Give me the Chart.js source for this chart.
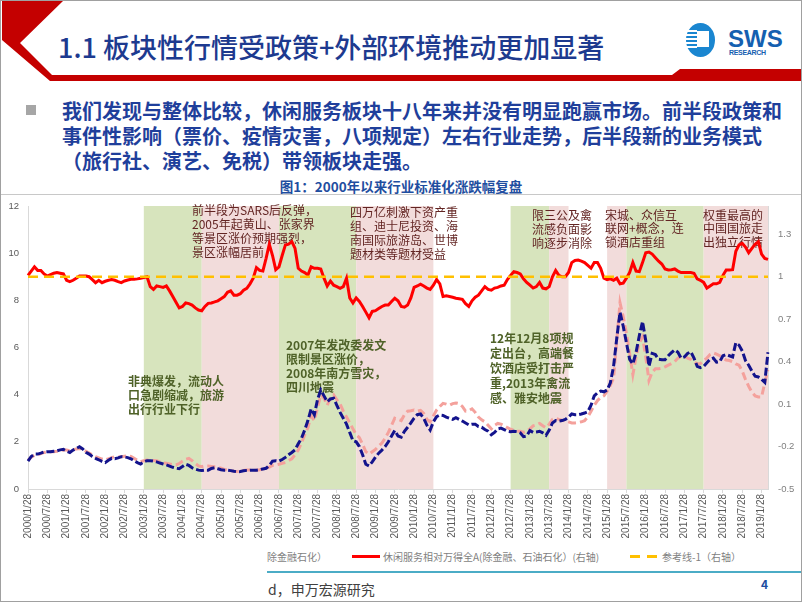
<!DOCTYPE html>
<html>
<head>
<meta charset="utf-8">
<script src="https://cdn.jsdelivr.net/npm/chart.js@4.4.0/dist/chart.umd.min.js"></script>
<style>
    html, body { margin: 0; padding: 0; background: #fff; }
    #slide { position: relative; width: 802px; height: 602px; overflow: hidden;
             font-family: "Noto Sans CJK SC", "Noto Sans", sans-serif; }
    .abs { position: absolute; white-space: nowrap; }
    #title { left: 58px; top: 29px; line-height: 36px; font-size: 27px; font-weight: 500; color: #1d3a8f; }
    #bullet { left: 26px; top: 105px; width: 10px; height: 10px; background: #a6a6a6; }
    #body { left: 62px; top: 98px; line-height: 25px; font-size: 20px; font-weight: bold; color: #1f3f9b; }
    #chartTitle { left: 0; width: 802px; top: 177px; line-height: 18px; text-align: center;
                  font-size: 13.5px; font-weight: bold; color: #1f4ea0; }
    #chartBox { position: absolute; left: 0; top: 196px; width: 802px; height: 350px; }
    .lg { position: absolute; top: 550px; line-height: 14px; font-size: 10px; color: #7f7f7f; white-space: nowrap; }
    #frame { position: absolute; left: 0; top: 0; width: 802px; height: 602px; box-sizing: border-box;
             border: 1px solid #a0a0a0; pointer-events: none; }
</style>
</head>
<body>
<div id="slide">
    <svg class="abs" width="802" height="90" style="left:0;top:0">
        <polygon points="2,1 63,1 20,43 52,75 672,75 680,69 801,69 801,81 50,81 2,40" fill="#c40000"/>
        <ellipse cx="700.5" cy="40" rx="14.5" ry="17" fill="#1a86d0"/>
        <rect x="686" y="30" width="11" height="2" fill="#fff"/>
        <rect x="686" y="34" width="11" height="2" fill="#fff"/>
        <rect x="686" y="38" width="11" height="2" fill="#fff"/>
        <rect x="686" y="42" width="11" height="2" fill="#fff"/>
        <rect x="686" y="46" width="11" height="2" fill="#fff"/>
        <rect x="697" y="31" width="12" height="16" fill="#fff"/>
        <text x="728" y="47" font-family="Liberation Sans" font-weight="bold" font-size="24" fill="#1560b0">SWS</text>
        <text x="729" y="55" font-family="Liberation Sans" font-weight="bold" font-size="7" fill="#1560b0" textLength="37">RESEARCH</text>
    </svg>
    <div id="title" class="abs">1.1 板块性行情受政策+外部环境推动更加显著</div>
    <div id="bullet" class="abs"></div>
    <div id="body" class="abs">我们发现与整体比较，休闲服务板块十八年来并没有明显跑赢市场。前半段政策和<br>事件性影响（票价、疫情灾害，八项规定）左右行业走势，后半段新的业务模式<br>（旅行社、演艺、免税）带领板块走强。</div>
    <div id="chartTitle" class="abs">图1：2000年以来行业标准化涨跌幅复盘</div>
    <div class="abs" style="left:0;top:194px;width:802px;height:1px;background:#c8c8c8"></div>

    <div id="chartBox"><canvas id="mainChart"></canvas></div>

    <div class="lg" id="lg0" style="left:267px"></div>
    <div class="abs" style="left:352px;top:555px;width:28px;height:3px;background:#ff0000"></div>
    <div class="lg" id="lg1" style="left:383px"></div>
    <div class="abs" style="left:630px;top:555px;width:10px;height:3px;background:#ffc000"></div>
    <div class="abs" style="left:647px;top:555px;width:10px;height:3px;background:#ffc000"></div>
    <div class="lg" id="lg2" style="left:662px"></div>

    <div class="abs" style="left:267px;top:571px;width:535px;height:2px;background:#4bacc6"></div>
    <div class="abs" style="left:268px;top:579px;line-height:20px;font-size:14px;color:#404040">d，申万宏源研究</div>
    <div class="abs" style="left:761px;top:576px;line-height:16px;font-size:12px;font-weight:bold;color:#1f4ea0">4</div>
    <div id="frame"></div>
</div>

<script>
// 月度日期
const DATES = [];
for (let y = 2000; y <= 2019; y++) {
    for (let m = 1; m <= 12; m++) {
        if (y === 2019 && m > 3) break;
        DATES.push(y + '/' + m + '/28');
    }
}

// 休闲服务相对万得全A(除金融、石油石化)（右轴）
const RELATIVE = [
    1.01, 1.04, 1.07, 1.045, 1.045, 1.02, 1.005, 1.015, 1.025, 1.03, 1.025, 1.02,
    0.975, 0.965, 0.975, 0.99, 1.005, 1.005, 1.005, 1.0, 0.98, 0.958, 0.975, 0.958,
    0.968, 0.975, 0.98, 0.975, 0.965, 0.958, 0.97, 0.977, 0.982, 0.982, 0.985, 0.99,
    0.995, 1.0, 0.93, 0.91, 0.935, 0.93, 0.925, 0.935, 0.9, 0.86, 0.82, 0.78,
    0.79, 0.815, 0.81, 0.8, 0.78, 0.765, 0.76, 0.79, 0.812, 0.815, 0.822, 0.83,
    0.845, 0.86, 0.89, 0.9, 0.87, 0.87, 0.88, 0.905, 0.918, 0.95, 0.99, 1.065,
    1.045, 1.04, 1.13, 1.23, 1.15, 1.05, 1.07, 1.15, 1.225, 1.23, 1.248, 1.2,
    1.06, 1.04, 1.03, 1.012, 1.07, 1.06, 1.06, 1.055, 0.99, 0.935, 0.97, 0.94,
    0.93, 0.918, 0.93, 0.99, 0.85, 0.815, 0.85, 0.825, 0.79, 0.75, 0.71, 0.755,
    0.76, 0.775, 0.79, 0.8, 0.8, 0.825, 0.848, 0.83, 0.79, 0.785, 0.8, 0.85,
    0.925, 0.935, 0.948, 0.935, 0.92, 0.91, 0.94, 0.98, 0.95, 0.86, 0.865, 0.86,
    0.855, 0.848, 0.845, 0.84, 0.81, 0.79, 0.83, 0.855, 0.87, 0.9, 0.93, 0.91,
    0.905, 0.92, 0.925, 0.935, 0.94, 0.98, 1.01, 1.036, 1.03, 1.02, 0.985, 0.96,
    0.94, 0.92, 0.93, 0.96, 0.92, 0.915, 0.93, 1.0, 1.045, 1.01, 1.0, 1.0,
    1.03, 1.1, 1.115, 1.118, 1.11, 1.1, 1.08, 1.06, 1.1, 1.1, 1.06, 0.99,
    0.98, 0.985, 0.975, 0.99, 0.95, 0.955, 0.99, 1.03, 1.1, 1.04, 1.036, 1.1,
    1.17, 1.175, 1.16, 1.135, 1.11, 1.09, 1.055, 1.048, 1.05, 1.055, 1.04, 1.03,
    1.03, 1.03, 1.03, 1.025, 0.985, 0.975, 0.96, 0.92, 0.935, 0.95, 0.95, 0.96,
    1.01, 1.048, 1.048, 1.05, 1.18, 1.225, 1.236, 1.21, 1.17, 1.2, 1.23, 1.248,
    1.16, 1.13, 1.123
];

// 休闲服务（左轴，深蓝虚线）
const LEISURE = [
    1.18, 1.38, 1.48, 1.48, 1.52, 1.57, 1.58, 1.58, 1.60, 1.62, 1.66, 1.68,
    1.60, 1.55, 1.65, 1.72, 1.79, 1.70, 1.56, 1.48, 1.38, 1.30, 1.24, 1.17,
    1.12, 1.22, 1.30, 1.28, 1.32, 1.37, 1.36, 1.33, 1.28, 1.20, 1.12, 1.06,
    1.15, 1.20, 1.20, 1.18, 1.15, 1.10, 1.06, 1.02, 0.97, 0.92, 0.88, 0.86,
    0.95, 1.05, 1.00, 0.90, 0.84, 0.80, 0.78, 0.80, 0.80, 0.87, 0.90, 0.86,
    0.82, 0.80, 0.80, 0.78, 0.75, 0.73, 0.74, 0.77, 0.79, 0.80, 0.80, 0.80,
    0.82, 0.85, 0.88, 1.00, 1.18, 1.20, 1.18, 1.25, 1.34, 1.45, 1.55, 1.66,
    1.92, 2.15, 2.50, 2.90, 3.40, 3.15, 3.80, 4.20, 3.95, 3.70, 3.82, 3.85,
    3.55, 3.25, 3.00, 2.75, 2.40, 2.05, 2.00, 1.80, 1.45, 1.05, 0.98, 1.15,
    1.35, 1.52, 1.65, 1.80, 2.00, 2.25, 2.48, 2.25, 2.20, 2.45, 2.62, 2.80,
    3.00, 3.15, 3.18, 3.00, 2.70, 2.50, 2.85, 3.07, 3.14, 3.12, 3.05, 3.00,
    2.95, 3.02, 2.95, 2.88, 2.80, 2.72, 2.75, 2.75, 2.65, 2.62, 2.52, 2.45,
    2.30, 2.40, 2.55, 2.58, 2.52, 2.45, 2.43, 2.45, 2.43, 2.38, 2.22, 2.25,
    2.48, 2.40, 2.42, 2.45, 2.38, 2.28, 2.50, 2.80, 2.90, 2.88, 2.90, 2.95,
    3.05, 3.18, 3.15, 3.15, 3.18, 3.22, 3.28, 3.55, 3.95, 4.08, 4.15, 4.12,
    4.20, 4.50, 5.20, 6.40, 7.50, 6.90, 6.20, 5.50, 5.30, 5.80, 6.50, 7.10,
    6.30, 5.20, 5.75, 5.70, 5.50, 5.48, 5.48, 5.65, 5.78, 5.90, 5.80, 5.55,
    5.60, 5.75, 5.82, 5.55, 5.20, 5.15, 5.20, 5.35, 5.50, 5.55, 5.38, 5.40,
    5.65, 5.70, 5.65, 5.60, 6.20, 6.10, 5.85, 5.45, 5.25, 5.00, 4.78, 4.75,
    4.65, 4.52, 5.80
];

// 万得全A(除金融石化)（左轴，粉色虚线）
const MARKET = [
    1.22, 1.35, 1.43, 1.45, 1.50, 1.55, 1.57, 1.58, 1.58, 1.60, 1.63, 1.65,
    1.65, 1.62, 1.66, 1.70, 1.72, 1.68, 1.60, 1.52, 1.44, 1.37, 1.32, 1.27,
    1.23, 1.28, 1.33, 1.37, 1.35, 1.37, 1.39, 1.40, 1.38, 1.30, 1.22, 1.16,
    1.20, 1.23, 1.22, 1.21, 1.20, 1.15, 1.10, 1.09, 1.06, 1.03, 1.02, 1.08,
    1.18, 1.26, 1.30, 1.20, 1.08, 0.98, 0.95, 0.98, 0.98, 0.96, 0.94, 0.92,
    0.88, 0.83, 0.81, 0.78, 0.75, 0.74, 0.76, 0.79, 0.81, 0.81, 0.80, 0.80,
    0.82, 0.85, 0.88, 0.93, 1.00, 1.02, 1.05, 1.09, 1.12, 1.20, 1.28, 1.45,
    1.65, 1.95, 2.30, 2.60, 3.10, 2.90, 3.45, 4.00, 3.85, 3.55, 3.85, 3.99,
    3.78, 3.60, 3.30, 3.05, 2.80, 2.55, 2.30, 2.18, 1.90, 1.58, 1.48, 1.58,
    1.68, 1.82, 1.95, 2.15, 2.40, 2.70, 3.00, 2.95, 2.90, 3.15, 3.30, 3.32,
    3.35, 3.30, 3.33, 3.20, 2.95, 2.85, 3.10, 3.35, 3.50, 3.63, 3.60, 3.55,
    3.62, 3.65, 3.62, 3.50, 3.30, 3.32, 3.40, 3.25, 3.05, 2.93, 2.85, 2.70,
    2.55, 2.70, 2.78, 2.75, 2.68, 2.60, 2.53, 2.50, 2.45, 2.45, 2.40, 2.45,
    2.55, 2.68, 2.72, 2.78, 2.68, 2.60, 2.75, 2.95, 3.00, 2.95, 2.92, 2.90,
    2.85, 2.80, 2.80, 2.82, 2.85, 2.90, 3.05, 3.30, 3.55, 3.75, 3.88, 3.95,
    4.15, 4.40, 4.70, 6.30, 7.90, 7.30, 6.60, 5.75, 4.85, 5.60, 6.20, 6.45,
    5.60, 4.60, 4.95, 5.10, 5.10, 5.12, 5.18, 5.25, 5.32, 5.40, 5.55, 5.62,
    5.65, 5.55, 5.50, 5.40, 5.30, 5.32, 5.45, 5.55, 5.70, 5.77, 5.72, 5.65,
    5.55, 5.47, 5.45, 5.40, 5.30, 5.25, 5.00, 4.65, 4.35, 4.10, 3.95, 3.90,
    3.90, 4.50, 5.05
];

// 参考线（右轴）
const REF_VALUE = [1, 1];

// 右轴刻度
const RIGHT_TICKS = [-0.5, -0.2, 0.1, 0.4, 0.7, 1.0, 1.3];

// 背景区间
const BANDS = [
    ['2003/1/28', '2004/7/28', 'green'],
    ['2004/7/28', '2006/7/28', 'pink'],
    ['2006/7/28', '2008/7/28', 'green'],
    ['2008/7/28', '2010/7/28', 'pink'],
    ['2012/7/28', '2013/7/28', 'green'],
    ['2013/7/28', '2014/1/28', 'pink'],
    ['2015/1/28', '2015/7/28', 'pink'],
    ['2015/7/28', '2017/7/28', 'green'],
    ['2017/7/28', '2019/3/28', 'pink']
];

const LEGEND = ['除金融石化）', '休闲服务相对万得全A(除金融、石油石化）(右轴)', '参考线-1（右轴）'];

// 图上文字说明
const NOTES = [
    { x: 192, y: 14, lh: 14, c: 'brown', lines: ['前半段为SARS后反弹，', '2005年起黄山、张家界', '等景区涨价预期强烈，', '景区涨幅居前'] },
    { x: 350, y: 16, lh: 14, c: 'brown', lines: ['四万亿刺激下资产重', '组、迪士尼投资、海', '南国际旅游岛、世博', '题材类等题材受益'] },
    { x: 532, y: 19, lh: 14, c: 'brown', lines: ['限三公及禽', '流感负面影', '响逐步消除'] },
    { x: 605, y: 19, lh: 13.5, c: 'brown', lines: ['宋城、众信互', '联网+概念，连', '锁酒店重组'] },
    { x: 703, y: 19, lh: 13.5, c: 'brown', lines: ['权重最高的', '中国国旅走', '出独立行情'] },
    { x: 128, y: 185, lh: 14, c: 'green', lines: ['非典爆发，流动人', '口急剧缩减，旅游', '出行行业下行'] },
    { x: 286, y: 149, lh: 14.3, c: 'green', lines: ['2007年发改委发文', '限制景区涨价，', '2008年南方雪灾，', '四川地震'] },
    { x: 490, y: 142, lh: 15, c: 'green', lines: ['12年12月8项规', '定出台，高端餐', '饮酒店受打击严', '重,2013年禽流', '感、雅安地震'] }
];

const COLORS = {
    red: '#ff0000',
    navy: '#13138c',
    pink: '#f4a19c',
    yellow: '#ffc000',
    bandGreen: '#d7e4bd',
    bandPink: '#f2dcdb',
    brown: '#632523',
    green: '#4f6228',
    axis: '#d9d9d9'
};

const CJK = '"Noto Sans CJK SC", "Noto Sans", sans-serif';

document.getElementById('lg0').textContent = LEGEND[0];
document.getElementById('lg1').textContent = LEGEND[1];
document.getElementById('lg2').textContent = LEGEND[2];

const bandsPlugin = {
    id: 'bands',
    beforeDraw(chart) {
        const { ctx, chartArea, scales } = chart;
        ctx.save();
        BANDS.forEach(([from, to, kind]) => {
            const x1 = scales.x.getPixelForValue(DATES.indexOf(from));
            const x2 = scales.x.getPixelForValue(DATES.indexOf(to));
            ctx.fillStyle = kind === 'green' ? COLORS.bandGreen : COLORS.bandPink;
            ctx.fillRect(x1, chartArea.top, x2 - x1, chartArea.bottom - chartArea.top);
        });
        ctx.restore();
    },
    beforeDatasetsDraw(chart) {
        const ctx = chart.ctx;
        ctx.save();
        ctx.textBaseline = 'middle';
        ctx.textAlign = 'left';
        NOTES.forEach(n => {
            ctx.font = (n.c === 'green' ? 'bold ' : '') + '12px ' + CJK;
            ctx.fillStyle = n.c === 'green' ? COLORS.green : COLORS.brown;
            n.lines.forEach((t, k) => ctx.fillText(t, n.x, n.y + k * n.lh));
        });
        ctx.restore();
    }
};

function initializeMainChart() {
    const ctx = document.getElementById('mainChart');
    const last = DATES.length - 1;

    new Chart(ctx, {
        type: 'line',
        data: {
            labels: DATES,
            datasets: [
                {
                    label: LEGEND[2],
                    data: [{ x: DATES[0], y: REF_VALUE[0] }, { x: DATES[last], y: REF_VALUE[1] }],
                    yAxisID: 'y1',
                    borderColor: COLORS.yellow,
                    borderWidth: 2.5,
                    borderDash: [10, 6],
                    pointRadius: 0
                },
                {
                    label: LEGEND[1],
                    data: RELATIVE,
                    yAxisID: 'y1',
                    borderColor: COLORS.red,
                    borderWidth: 3,
                    pointRadius: 0
                },
                {
                    label: '休闲服务',
                    data: LEISURE,
                    yAxisID: 'y',
                    borderColor: COLORS.navy,
                    borderWidth: 3,
                    borderDash: [8, 3],
                    pointRadius: 0
                },
                {
                    label: '万得全A(除金融石化）',
                    data: MARKET,
                    yAxisID: 'y',
                    borderColor: COLORS.pink,
                    borderWidth: 3,
                    borderDash: [8, 4],
                    pointRadius: 0
                }
            ]
        },
        options: {
            responsive: true,
            maintainAspectRatio: false,
            animation: false,
            layout: { padding: { top: 10, left: 0, right: 0, bottom: 0 } },
            elements: { line: { tension: 0 } },
            plugins: {
                legend: { display: false },
                tooltip: { enabled: false }
            },
            scales: {
                x: {
                    type: 'category',
                    offset: false,
                    grid: { display: true, drawOnChartArea: false, color: COLORS.axis, tickLength: 4 },
                    border: { color: COLORS.axis },
                    ticks: {
                        autoSkip: false,
                        minRotation: 90,
                        maxRotation: 90,
                        padding: 1,
                        color: '#595959',
                        font: { family: 'Liberation Sans', size: 10 },
                        callback: function(value, index) {
                            const label = DATES[index];
                            const month = label.split('/')[1];
                            return (month === '1' || month === '7') ? label : null;
                        }
                    },
                    afterFit: function(scale) { scale.height = 57; }
                },
                y: {
                    position: 'left',
                    min: 0,
                    max: 12,
                    grid: { display: false, drawTicks: true, tickLength: 8 },
                    border: { color: COLORS.axis },
                    ticks: {
                        stepSize: 2,
                        padding: 1,
                        color: '#595959',
                        font: { family: 'Liberation Sans', size: 9.5 }
                    },
                    afterFit: function(scale) { scale.width = 28; }
                },
                y1: {
                    position: 'right',
                    min: -0.5,
                    max: 1.5,
                    grid: { display: false, drawTicks: true, tickLength: 9 },
                    border: { color: COLORS.axis },
                    afterBuildTicks: function(scale) {
                        scale.ticks = RIGHT_TICKS.map(v => ({ value: v }));
                    },
                    ticks: {
                        padding: 1,
                        color: '#7f7f7f',
                        font: { family: 'Liberation Sans', size: 9.5 },
                        callback: function(value) { return String(Math.round(value * 10) / 10); }
                    },
                    afterFit: function(scale) { scale.width = 34; }
                }
            }
        },
        plugins: [bandsPlugin]
    });
}

window.onload = function() {
    initializeMainChart();
};
</script>
</body>
</html>
